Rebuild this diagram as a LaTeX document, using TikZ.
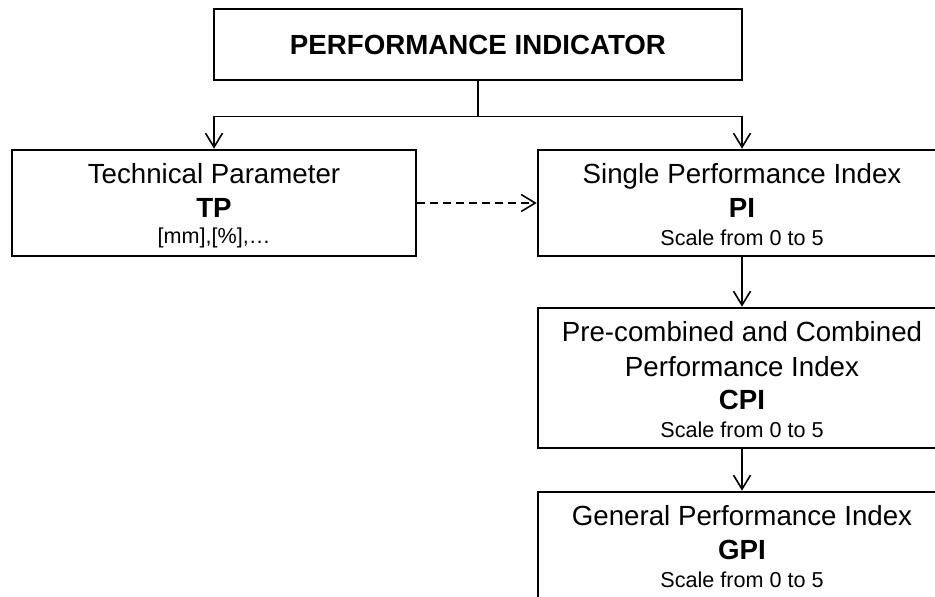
\documentclass[tikz,border=0pt]{standalone}
\usepackage{fontspec}
\setmainfont{Liberation Sans}
\usetikzlibrary{arrows.meta}
\tikzset{
  box/.style={draw=black, line width=2.6pt, rectangle, inner sep=0pt},
  conn/.style={draw=black, line width=1.6pt},
  arr/.style={conn, -{Straight Barb[length=14pt,width=17pt,line width=1.6pt]}},
  big/.style={inner sep=0pt, anchor=base, font=\fontsize{27.7}{33}\selectfont},
  bigb/.style={inner sep=0pt, anchor=base, font=\fontsize{27.7}{33}\selectfont\bfseries},
  small/.style={inner sep=0pt, anchor=base, font=\fontsize{21.6}{26}\selectfont},
}
\begin{document}
\begin{tikzpicture}[x=1pt,y=-1pt]
\clip (0,0) rectangle (935,597);
\fill[white] (0,0) rectangle (935,597);
% boxes
\node[box, minimum width=528pt, minimum height=71pt] (top) at (478,44.5) {};
\node[bigb, anchor=center] (toptxt) at (478,45) {PERFORMANCE INDICATOR};
\node[box, minimum width=404pt, minimum height=106pt] (tp) at (214,203) {};
\node[box, minimum width=408pt, minimum height=106pt] (pi) at (742,203) {};
\node[box, minimum width=408pt, minimum height=140pt] (cpi) at (742,378) {};
\node[box, minimum width=408pt, minimum height=106pt] (gpi) at (742,545) {};
% texts
\node[big] (tp1) at (214,183) {Technical Parameter};
\node[bigb] (tp2) at (214,217) {TP};
\node[small] (tp3) at (214,243) {[mm],[\%],…};
\node[big] (pi1) at (742,183) {Single Performance Index};
\node[bigb] (pi2) at (742,217) {PI};
\node[small] (pi3) at (742,245) {Scale from 0 to 5};
\node[big] (cpi1) at (742,341) {Pre-combined and Combined};
\node[big] (cpi2) at (742,376) {Performance Index};
\node[bigb] (cpi3) at (742,409) {CPI};
\node[small] (cpi4) at (742,437) {Scale from 0 to 5};
\node[big] (gpi1) at (742,525) {General Performance Index};
\node[bigb] (gpi2) at (742,559) {GPI};
\node[small] (gpi3) at (742,587) {Scale from 0 to 5};
% connectors
\draw[conn] (top.south) -- ++(0,35) coordinate (j);
\draw[arr] (j) -| (tp.north);
\draw[arr] (j) -| (pi.north);
\draw[arr, dash pattern=on 8pt off 5pt] (tp.east) -- (pi.west);
\draw[arr] (pi.south) -- (cpi.north);
\draw[arr] (cpi.south) -- (gpi.north);
\end{tikzpicture}
\end{document}
